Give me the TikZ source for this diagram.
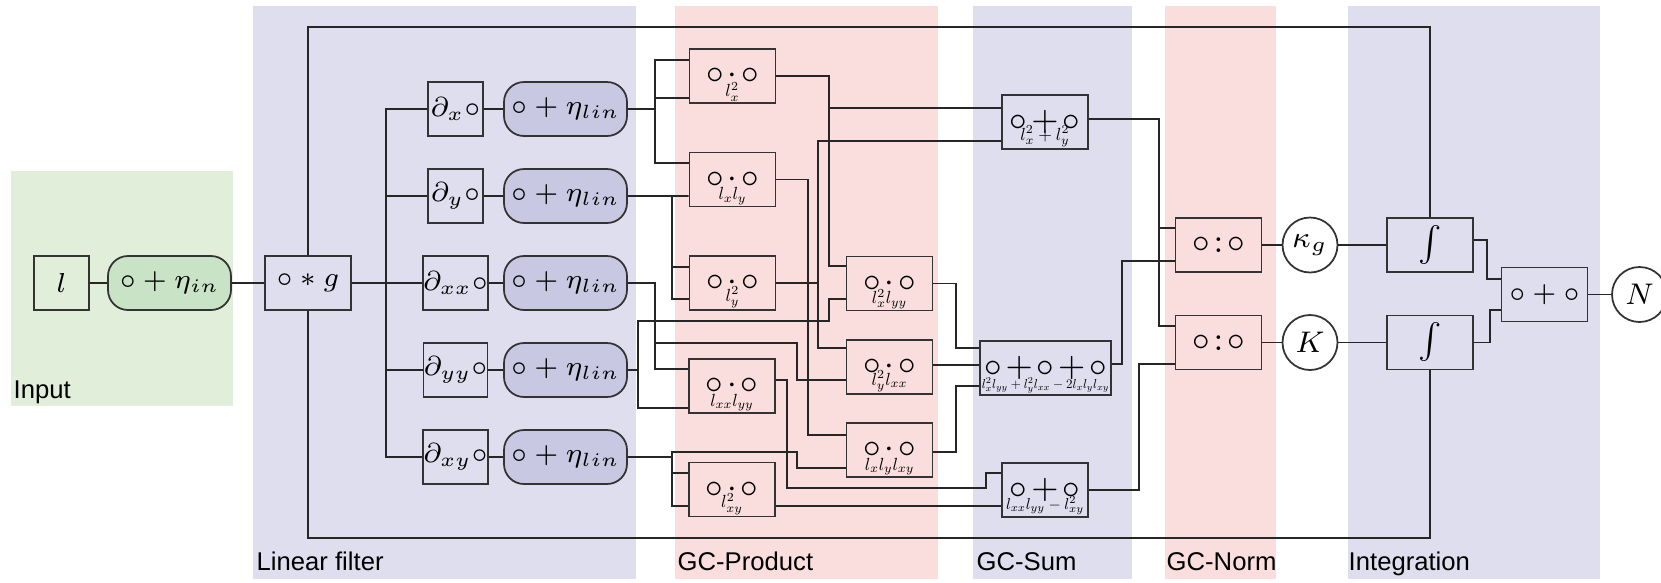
\RequirePackage{fix-cm}
\documentclass[tikz,border=0pt]{standalone}
\usepackage{fontspec}
\usepackage{graphicx}
\setsansfont{Liberation Sans}
\usetikzlibrary{calc}
\definecolor{bgblue}{HTML}{DFDEEF}
\definecolor{bgpink}{HTML}{FADEDE}
\definecolor{bggreen}{HTML}{E1EED9}
\definecolor{nblue}{HTML}{C9C8E3}
\definecolor{ngreen}{HTML}{C8E3C6}
\definecolor{edge}{HTML}{333333}
\newcommand{\prd}{$\circ\mkern-2mu\cdot\mkern-2mu\circ$}
\newcommand{\smd}{$\circ\mkern-2mu+\mkern-2mu\circ$}
\newcommand{\qtn}{$\circ\mkern-3mu:\mkern-3mu\circ$}
\newcommand{\lbl}[2][0.5]{\scalebox{#1}{\fontsize{10}{12}\selectfont$#2$}}
\begin{document}
\begin{tikzpicture}[x=0.1mm,y=-0.1mm,
 every node/.style={font=\fontsize{7.8}{9}\selectfont},
 blk/.style={draw=edge, line width=0.5pt, rectangle, inner sep=0pt, minimum height=5.4mm},
 sq/.style={blk, minimum width=5.5mm},
 noiseb/.style={blk, rounded corners=2mm, minimum width=12.3mm},
 op/.style={blk, minimum width=8.6mm},
 big/.style={font=\fontsize{9.7}{10}\selectfont},
 rnd/.style={draw=edge, line width=0.5pt, circle, fill=white, inner sep=0pt, minimum size=5.5mm, font=\fontsize{8.5}{9}\selectfont},
 wire/.style={line width=0.45pt, draw=black!85},
 lab/.style={font=\fontsize{7.3}{8}\sffamily, anchor=base west, inner sep=0pt},
 sublab/.style={inner sep=0.6pt, anchor=south}
]
\clip (0,0) rectangle (1661,582);
\fill[white] (0,0) rectangle (1661,582);
% regions
\fill[bggreen] (11,171) rectangle (233,406);
\fill[bgblue] (253,6) rectangle (636,579);
\fill[bgpink] (675,6) rectangle (938,579);
\fill[bgblue] (973,6) rectangle (1132,579);
\fill[bgpink] (1165,6) rectangle (1276,579);
\fill[bgblue] (1348,6) rectangle (1600,579);
\node[lab] (tin) at (13,398) {Input};
\node[lab] (tlf) at (256,570) {Linear filter};
\node[lab] (tgp) at (677,570) {GC-Product};
\node[lab] (tgs) at (976,570) {GC-Sum};
\node[lab] (tgn) at (1166,570) {GC-Norm};
\node[lab] (tint) at (1348,570) {Integration};
% input
\node[sq, fill=bggreen] (l) at (61.5,283) {$l$};
\node[noiseb, fill=ngreen] (ein) at (169.5,283) {$\circ+\eta_{in}$};
\node[op, fill=bgblue] (conv) at (308,283) {$\circ*g$};
% linear filter
\node[sq, fill=bgblue] (dx) at (455.5,109) {$\partial_x\circ$};
\node[sq, fill=bgblue] (dy) at (455.5,196) {$\partial_y\circ$};
\node[sq, fill=bgblue] (dxx) at (455.5,283) {$\partial_{xx}\circ$};
\node[sq, fill=bgblue] (dyy) at (455.5,370) {$\partial_{yy}\circ$};
\node[sq, fill=bgblue] (dxy) at (455.5,457) {$\partial_{xy}\circ$};
\node[noiseb, fill=nblue] (n1) at (565.5,109) {$\circ+\eta_{lin}$};
\node[noiseb, fill=nblue] (n2) at (565.5,196) {$\circ+\eta_{lin}$};
\node[noiseb, fill=nblue] (n3) at (565.5,283) {$\circ+\eta_{lin}$};
\node[noiseb, fill=nblue] (n4) at (565.5,370) {$\circ+\eta_{lin}$};
\node[noiseb, fill=nblue] (n5) at (565.5,457) {$\circ+\eta_{lin}$};
% products
\node[op, big, fill=bgpink] (P1) at (732.5,76) {\prd};
\node[op, big, fill=bgpink] (P2) at (732.5,179.5) {\prd};
\node[op, big, fill=bgpink] (P3) at (732.5,283) {\prd};
\node[op, big, fill=bgpink] (P7) at (732,386) {\prd};
\node[op, big, fill=bgpink] (P8) at (732,489.5) {\prd};
\node[op, big, fill=bgpink] (P4) at (889.5,283.5) {\prd};
\node[op, big, fill=bgpink] (P5) at (889.5,367) {\prd};
\node[op, big, fill=bgpink] (P6) at (889.5,450) {\prd};
\node[sublab] (P1t) at (P1.south) {\lbl{l_x^2}};
\node[sublab] (P2t) at (P2.south) {\lbl{l_xl_y}};
\node[sublab] (P3t) at (P3.south) {\lbl{l_y^2}};
\node[sublab] (P7t) at (P7.south) {\lbl{l_{xx}l_{yy}}};
\node[sublab] (P8t) at (P8.south) {\lbl{l_{xy}^2}};
\node[sublab] (P4t) at (P4.south) {\lbl{l_x^2l_{yy}}};
\node[sublab] (P5t) at (P5.south) {\lbl{l_y^2l_{xx}}};
\node[sublab] (P6t) at (P6.south) {\lbl{l_xl_yl_{xy}}};
% sums
\node[op, big, fill=bgblue] (S1) at (1045,122) {\smd};
\node[op, big, fill=bgblue, minimum width=13.1mm] (S2) at (1045.5,368) {$\circ\mkern-2mu+\mkern-2mu\circ\mkern-2mu+\mkern-2mu\circ$};
\node[op, big, fill=bgblue] (S3) at (1045,490) {\smd};
\node[sublab] (S1t) at (S1.south) {\lbl{l_x^2+l_y^2}};
\node[sublab] (S2t) at (S2.south) {\lbl[0.37]{l_x^2l_{yy}+l_y^2l_{xx}-2l_xl_yl_{xy}}};
\node[sublab] (S3t) at (S3.south) {\lbl[0.45]{l_{xx}l_{yy}-l_{xy}^2}};
% norms
\node[op, big, fill=bgpink] (N1) at (1218.5,245) {\qtn};
\node[op, big, fill=bgpink] (N2) at (1218.5,342.5) {\qtn};
\node[rnd] (kg) at (1310,245) {$\kappa_g$};
\node[rnd] (K) at (1310,342.5) {$K$};
% integration
\node[op, fill=bgblue, font=\fontsize{11}{12}\selectfont] (I1) at (1430,245) {$\int$};
\node[op, fill=bgblue, font=\fontsize{11}{12}\selectfont] (I2) at (1430,342.5) {$\int$};
\node[op, fill=bgblue] (F) at (1544.5,294.5) {$\circ+\circ$};
\node[rnd] (Nout) at (1639.5,294.5) {$N$};
% ports
\coordinate (P1a) at ($(P1.west)+(0,-16)$);
\coordinate (P1b) at ($(P1.west)+(0,22)$);
\coordinate (P2a) at ($(P2.west)+(0,-16.5)$);
\coordinate (P2b) at ($(P2.west)+(0,16.5)$);
\coordinate (P3a) at ($(P3.west)+(0,-16)$);
\coordinate (P3b) at ($(P3.west)+(0,16)$);
\coordinate (P4a) at ($(P4.west)+(0,-17.5)$);
\coordinate (P4b) at ($(P4.west)+(0,15.5)$);
\coordinate (P5a) at ($(P5.west)+(0,-19)$);
\coordinate (P5b) at ($(P5.west)+(0,13)$);
\coordinate (P5o) at ($(P5.east)+(0,-2)$);
\coordinate (P6a) at ($(P6.west)+(0,-15)$);
\coordinate (P6b) at ($(P6.west)+(0,18)$);
\coordinate (P6o) at ($(P6.east)+(0,2)$);
\coordinate (P7a) at ($(P7.west)+(0,-17)$);
\coordinate (P7b) at ($(P7.west)+(0,22)$);
\coordinate (P7o) at ($(P7.east)+(0,-6)$);
\coordinate (P8a) at ($(P8.west)+(0,-16.5)$);
\coordinate (P8b) at ($(P8.west)+(0,16.5)$);
\coordinate (P8o) at ($(P8.east)+(0,16.5)$);
\coordinate (S1a) at ($(S1.west)+(0,-14)$);
\coordinate (S1b) at ($(S1.west)+(0,19)$);
\coordinate (S1o) at ($(S1.east)+(0,-3)$);
\coordinate (S2a) at ($(S2.west)+(0,-20)$);
\coordinate (S2b) at ($(S2.west)+(0,-3)$);
\coordinate (S2c) at ($(S2.west)+(0,18)$);
\coordinate (S2o) at ($(S2.east)+(0,-4)$);
\coordinate (S3a) at ($(S3.west)+(0,-17)$);
\coordinate (S3b) at ($(S3.west)+(0,16)$);
\coordinate (N1a) at ($(N1.west)+(0,-17)$);
\coordinate (N1b) at ($(N1.west)+(0,16)$);
\coordinate (N2a) at ($(N2.west)+(0,-16.5)$);
\coordinate (N2b) at ($(N2.west)+(0,21.5)$);
\coordinate (I1o) at ($(I1.east)+(0,-5)$);
\coordinate (Fa) at ($(F.west)+(0,-15.5)$);
\coordinate (Fb) at ($(F.west)+(0,15.5)$);
% bus positions
\coordinate (x386) at (386,0);
\coordinate (x638) at (638,0);
\coordinate (x655) at (655,0);
\coordinate (x672) at (672,0);
\coordinate (x787) at (787,0);
\coordinate (x797) at (797,0);
\coordinate (x808) at (808,0);
\coordinate (x818) at (818,0);
\coordinate (x829) at (829,0);
\coordinate (x956) at (956,0);
\coordinate (x986) at (986,0);
\coordinate (x1122) at (1122,0);
\coordinate (x1139) at (1139,0);
\coordinate (x1159) at (1159,0);
\coordinate (x1487) at (1487,0);
\coordinate (x1490) at (1490,0);
\coordinate (y321) at (0,321);
\coordinate (y343) at (0,343);
\coordinate (y452) at (0,452);
\coordinate (y488) at (0,488);
\coordinate (ytop) at (0,27);
\coordinate (ybot) at (0,538);
% wires: input and filter
\draw[wire] (l) -- (ein);
\draw[wire] (ein) -- (conv);
\foreach \d in {dx,dy,dxx,dyy,dxy} \draw[wire] (conv.east) -| (x386 |- \d.west) -- (\d.west);
\draw[wire] (dx) -- (n1);
\draw[wire] (dy) -- (n2);
\draw[wire] (dxx) -- (n3);
\draw[wire] (dyy) -- (n4);
\draw[wire] (dxy) -- (n5);
% l_x
\draw[wire] (n1.east) -| (x655 |- P1a) -- (P1a);
\draw[wire] (n1.east) -| (x655 |- P1b) -- (P1b);
\draw[wire] (n1.east) -| (x655 |- P2a) -- (P2a);
% l_y
\draw[wire] (n2.east) -- (P2b);
\draw[wire] (n2.east) -| (x672 |- P3a) -- (P3a);
\draw[wire] (n2.east) -| (x672 |- P3b) -- (P3b);
% l_xx
\draw[wire] (n3.east) -| (x655 |- P7a) -- (P7a);
\draw[wire] (n3.east) -| (x655 |- y343) -| (x797 |- P5b) -- (P5b);
% l_yy
\draw[wire] (n4.east) -| (x638 |- P7b) -- (P7b);
\draw[wire] (n4.east) -| (x638 |- y321) -| (x829 |- P4b) -- (P4b);
% l_xy
\draw[wire] (n5.east) -| (x672 |- P8a) -- (P8a);
\draw[wire] (n5.east) -| (x672 |- P8b) -- (P8b);
\draw[wire] (n5.east) -| (x672 |- y452) -| (x797 |- P6b) -- (P6b);
% product outputs
\draw[wire] (P1.east) -| (x829 |- P4a) -- (P4a);
\draw[wire] (P1.east) -| (x829 |- S1a) -- (S1a);
\draw[wire] (P2.east) -| (x808 |- P6a) -- (P6a);
\draw[wire] (P3.east) -| (x818 |- S1b) -- (S1b);
\draw[wire] (P3.east) -| (x818 |- P5a) -- (P5a);
\draw[wire] (P7o) -| (x787 |- y488) -| (x986 |- S3a) -- (S3a);
\draw[wire] (P8o) -- (S3b);
\draw[wire] (P4.east) -| (x956 |- S2a) -- (S2a);
\draw[wire] (P5o) -- (S2b);
\draw[wire] (P6o) -| (x956 |- S2c) -- (S2c);
% sums to norms
\draw[wire] (S1o) -| (x1159 |- N1a) -- (N1a);
\draw[wire] (S1o) -| (x1159 |- N2a) -- (N2a);
\draw[wire] (S2o) -| (x1122 |- N1b) -- (N1b);
\draw[wire] (S3.east) -| (x1139 |- N2b) -- (N2b);
\draw[wire] (N1) -- (kg);
\draw[wire] (N2) -- (K);
\draw[wire] (kg) -- (I1);
\draw[wire] (K) -- (I2);
\draw[wire] (I1o) -| (x1487 |- Fa) -- (Fa);
\draw[wire] (I2.east) -| (x1490 |- Fb) -- (Fb);
\draw[wire] (F) -- (Nout);
% outer loop
\draw[wire] (conv.north) -- (conv.north |- ytop) -| (I1.north);
\draw[wire] (conv.south) -- (conv.south |- ybot) -| (I2.south);
\end{tikzpicture}
\end{document}
